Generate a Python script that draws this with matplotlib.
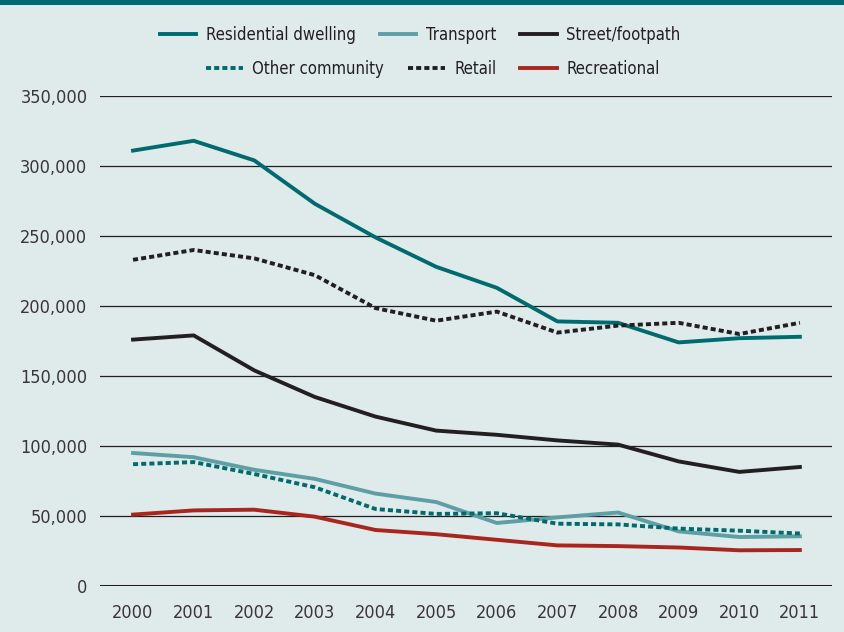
import matplotlib
matplotlib.use("Agg")
import matplotlib.pyplot as plt
from matplotlib.patches import Rectangle
from matplotlib.ticker import FuncFormatter

years = list(range(2000, 2012))
residential = [311000, 318000, 304000, 273000, 249000, 228000, 213000, 189000, 188000, 174000, 177000, 178000]
transport = [95000, 92000, 83000, 76500, 66000, 60000, 45000, 49000, 52500, 39000, 35000, 35500]
street = [176000, 179000, 154000, 135000, 121000, 111000, 108000, 104000, 101000, 89000, 81500, 85000]
other_community = [87000, 88500, 80000, 70500, 55000, 51500, 52000, 44500, 44000, 41000, 39500, 37500]
retail = [233000, 240000, 234000, 222000, 198500, 189500, 196000, 181000, 186000, 188000, 180000, 188000]
recreational = [51000, 54000, 54500, 49500, 40000, 37000, 33000, 29000, 28500, 27500, 25500, 25700]

bg = "#dfeaeb"
teal = "#006b6e"
plt.rcParams['font.family'] = ['Liberation Sans Narrow', 'DejaVu Sans']
plt.rcParams['font.stretch'] = 'condensed'

fig = plt.figure(figsize=(8.45, 6.32), dpi=100, facecolor=bg)
ax = fig.add_axes([100/845, 1-586/632, 732/845, 490/632])
ax.set_facecolor(bg)

lw = 2.8
dot = (0, (1.3, 0.8))
l1, = ax.plot(years, residential, color=teal, lw=lw, label="Residential dwelling")
l2, = ax.plot(years, transport, color="#5e9fa6", lw=lw, label="Transport")
l3, = ax.plot(years, street, color="#231f20", lw=lw, label="Street/footpath")
l4, = ax.plot(years, other_community, color=teal, lw=lw, ls=dot, label="Other community")
l5, = ax.plot(years, retail, color="#231f20", lw=lw, ls=dot, label="Retail")
l6, = ax.plot(years, recreational, color="#a8261e", lw=lw, label="Recreational")

ax.set_xlim(2000 - 0.545, 2011 + 0.53)
ax.set_ylim(0, 350000)
ax.set_yticks(range(0, 350001, 50000))
ax.set_xticks(years)
ax.yaxis.set_major_formatter(FuncFormatter(lambda v, p: f"{int(v):,}"))
ax.grid(axis='y', color="#231f20", lw=0.9)
ax.axhline(0, color="#231f20", lw=2.2, zorder=1)
ax.set_axisbelow(True)
for s in ax.spines.values():
    s.set_visible(False)
ax.tick_params(length=0, labelsize=13, colors="#3a3536")
ax.tick_params(axis='y', pad=9)
ax.tick_params(axis='x', pad=13)

leg_kw = dict(frameon=False, fontsize=12, handlelength=2.2, handletextpad=0.55,
              columnspacing=1.45, labelcolor="#231f20")
leg1 = fig.legend(handles=[l1, l2, l3], ncol=3, loc='center', bbox_to_anchor=(420/845, 1-35/632), **leg_kw)
leg2 = fig.legend(handles=[l4, l5, l6], ncol=3, loc='center', bbox_to_anchor=(433/845, 1-69/632), **leg_kw)

fig.patches.append(Rectangle((0, 1-5/632), 1, 5/632, transform=fig.transFigure,
                             facecolor=teal, edgecolor='none'))

fig.savefig("out.png", dpi=100, facecolor=bg)
